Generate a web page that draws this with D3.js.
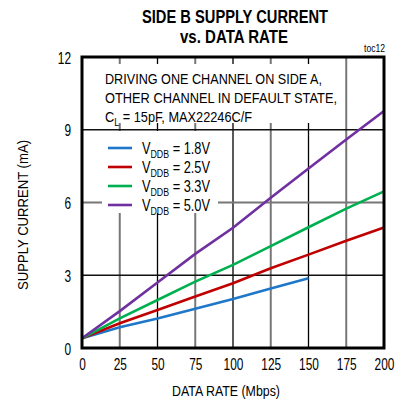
<!DOCTYPE html>
<html><head><meta charset="utf-8">
<script src="https://cdn.jsdelivr.net/npm/d3@7"></script>
<style>body{margin:0;background:#fff}svg{display:block}text{font-family:"Liberation Sans",Arial,sans-serif}</style>
</head><body><svg id="c" width="401" height="402"></svg>
<script>
const rates = [0,25,50,75,100,125,150,175,200];
const vddb18 = [0.40,0.86,1.22,1.62,2.02,2.45,2.88];
const vddb25 = [0.40,1.02,1.57,2.12,2.67,3.29,3.85,4.42,4.97];
const vddb33 = [0.40,1.22,1.98,2.74,3.43,4.20,4.98,5.75,6.46];
const vddb50 = [0.40,1.52,2.70,3.88,4.96,6.20,7.40,8.60,9.77];
const seriesNames = ["1.8V","2.5V","3.3V","5.0V"];
const seriesColors = ["#1f77c9","#c00000","#00b050","#7030a0"];
const xTicks = [0,25,50,75,100,125,150,175,200];
const yTicks = [0,3,6,9,12];

const svg = d3.select("#c");
const L=82,R=384,T=57,B=348;
const x = d3.scaleLinear().domain([0,200]).range([L,R]);
const y = d3.scaleLinear().domain([0,12]).range([B,T]);
const fit = (sel,w)=>sel.attr("textLength",w).attr("lengthAdjust","spacingAndGlyphs");

// grid
svg.append("g").selectAll("line").data(xTicks.slice(1,-1)).join("line")
  .attr("x1",d=>x(d)).attr("x2",d=>x(d)).attr("y1",T).attr("y2",B)
  .attr("stroke",d=>d%50===0?"#000":"#777").attr("stroke-width",d=>d%50===0?1.3:2);
svg.append("g").selectAll("line").data(yTicks.slice(1,-1)).join("line")
  .attr("y1",d=>y(d)).attr("y2",d=>y(d)).attr("x1",L).attr("x2",R)
  .attr("stroke",d=>d===6?"#777":"#111").attr("stroke-width",d=>d===6?2:1.3);

// white boxes behind annotation & legend
svg.append("rect").attr("x",L+2).attr("y",64).attr("width",256).attr("height",59).attr("fill","#fff");
svg.append("rect").attr("x",102).attr("y",131).attr("width",116).attr("height",82).attr("fill","#fff");

// lines
const all=[vddb18,vddb25,vddb33,vddb50];
const line=d3.line().x((d,i)=>x(rates[i])).y(d=>y(d));
svg.append("g").selectAll("path").data(all).join("path")
  .attr("d",d=>line(d)).attr("fill","none")
  .attr("stroke",(d,i)=>seriesColors[i]).attr("stroke-width",2.6);

// frame
svg.append("rect").attr("x",L).attr("y",T).attr("width",R-L).attr("height",B-T)
  .attr("fill","none").attr("stroke","#000").attr("stroke-width",3);

// axes labels
const xa = d3.axisBottom(x).tickValues(xTicks).tickSize(0).tickPadding(0);
const gx = svg.append("g").attr("transform",`translate(0,${B})`).call(xa);
gx.select(".domain").remove();
gx.selectAll("text").attr("dy",null).attr("y",22).attr("font-size",17).attr("fill","#000")
  .style("font-family",'"Liberation Sans",Arial,sans-serif')
  .each(function(d){ fit(d3.select(this), String(d).length*6.6); });
const ya = d3.axisLeft(y).tickValues(yTicks).tickSize(0).tickPadding(0);
const gy = svg.append("g").attr("transform",`translate(${L-11},0)`).call(ya);
gy.select(".domain").remove();
gy.selectAll("text").attr("dy","0.36em").attr("x",0).attr("font-size",17).attr("fill","#000")
  .style("font-family",'"Liberation Sans",Arial,sans-serif')
  .each(function(d){ fit(d3.select(this), String(d).length*6.6); });

// titles
fit(svg.append("text").attr("x",235).attr("y",23).attr("text-anchor","middle")
  .attr("font-size",17.5).attr("font-weight","bold").text("SIDE B SUPPLY CURRENT"),186);
fit(svg.append("text").attr("x",234).attr("y",43).attr("text-anchor","middle")
  .attr("font-size",17.5).attr("font-weight","bold").text("vs. DATA RATE"),108);
fit(svg.append("text").attr("x",385).attr("y",52).attr("text-anchor","end")
  .attr("font-size",10).text("toc12"),21);
fit(svg.append("text").attr("x",226).attr("y",396).attr("text-anchor","middle")
  .attr("font-size",15.5).text("DATA RATE (Mbps)"),108);
fit(svg.append("text").attr("transform","translate(28,215) rotate(-90)").attr("text-anchor","middle")
  .attr("font-size",15.5).text("SUPPLY CURRENT (mA)"),150);

// annotation
const ann = svg.append("g").attr("font-size",15.5);
fit(ann.append("text").attr("x",105).attr("y",84).text("DRIVING ONE CHANNEL ON SIDE A,"),217);
fit(ann.append("text").attr("x",105).attr("y",103).text("OTHER CHANNEL IN DEFAULT STATE,"),232);
const t3 = ann.append("text").attr("x",105).attr("y",122);
t3.append("tspan").text("C");
t3.append("tspan").attr("dy",4).attr("font-size",11).text("L");
t3.append("tspan").attr("dy",-4).text(" = 15pF, MAX22246C/F");
fit(t3,147);

// legend
const lg = svg.append("g").selectAll("g").data(seriesNames).join("g")
  .attr("transform",(d,i)=>`translate(0,${148+i*19})`);
lg.append("line").attr("x1",108).attr("x2",132).attr("stroke",(d,i)=>seriesColors[i]).attr("stroke-width",2.6);
const lt = lg.append("text").attr("x",142).attr("y",6).attr("font-size",16);
lt.append("tspan").text("V");
lt.append("tspan").attr("dy",4).attr("font-size",11).text("DDB");
lt.append("tspan").attr("dy",-4).text(d=>" = "+d);
lt.each(function(){ fit(d3.select(this),68); });
</script></body></html>
